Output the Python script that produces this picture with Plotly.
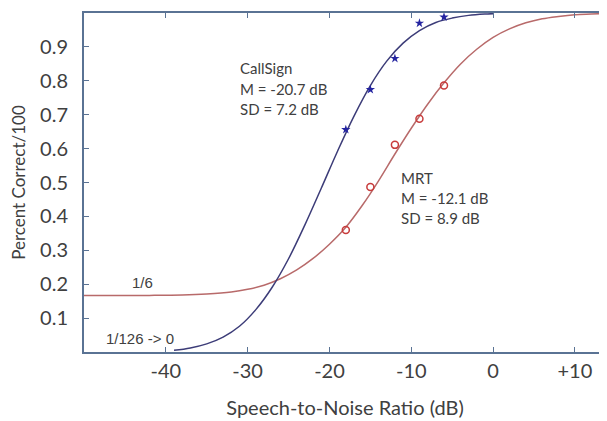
import plotly.graph_objects as go

# fitted curves
callsign_fit_x = [-39, -37, -35, -33, -31, -29, -27, -25, -23, -21, -19, -17, -15, -13, -11, -9, -7, -5, -3, -1, 0]
callsign_fit_y = [0.005, 0.012, 0.024, 0.044, 0.076, 0.125, 0.191, 0.275, 0.375, 0.483, 0.593, 0.696, 0.786, 0.858, 0.911, 0.948, 0.972, 0.985, 0.993, 0.997, 0.998]

mrt_fit_x = [-50, -46, -42, -38, -35, -32, -30, -28, -26, -24, -22, -20, -18, -16, -14, -12, -10, -8, -6, -4, -2, 0, 2, 4, 6, 8, 10, 12, 13]
mrt_fit_y = [0.167, 0.167, 0.167, 0.168, 0.171, 0.177, 0.185, 0.197, 0.216, 0.242, 0.276, 0.318, 0.368, 0.432, 0.505, 0.584, 0.660, 0.731, 0.794, 0.849, 0.893, 0.928, 0.953, 0.971, 0.983, 0.990, 0.995, 0.997, 0.998]

# measured points
snr = [-18, -15, -12, -9, -6]
callsign_pts = [0.656, 0.774, 0.866, 0.970, 0.988]
mrt_pts = [0.360, 0.487, 0.611, 0.688, 0.786]

x_ticks = [-40, -30, -20, -10, 0, 10]
x_labels = ['-40', '-30', '-20', '-10', '0', '+10']
y_ticks = [0.1, 0.2, 0.3, 0.4, 0.5, 0.6, 0.7, 0.8, 0.9]

axis_col = '#5a7394'
text_col = '#404040'
main_font = 'Lato, Open Sans, sans-serif'

fig = go.Figure()
fig.add_scatter(x=mrt_fit_x, y=mrt_fit_y, mode='lines', line_shape='spline',
                line_color='#b86a6a', line_width=1.5, showlegend=False)
fig.add_scatter(x=callsign_fit_x, y=callsign_fit_y, mode='lines', line_shape='spline',
                line_color='#3c3c78', line_width=1.5, showlegend=False)
fig.add_scatter(x=snr, y=callsign_pts, mode='markers',
                marker=dict(symbol='star', size=7, color='#2424a0'), showlegend=False)
fig.add_scatter(x=snr, y=mrt_pts, mode='markers',
                marker=dict(symbol='circle-open', size=7, color='#c83c3c', line_width=1.5),
                showlegend=False)

notes = [
    (-31.2, 0.838, 'CallSign'),
    (-31.2, 0.775, 'M = -20.7 dB'),
    (-31.2, 0.718, 'SD = 7.2 dB'),
    (-11.5, 0.513, 'MRT'),
    (-11.5, 0.455, 'M = -12.1 dB'),
    (-11.5, 0.396, 'SD = 8.9 dB'),
]
for x, y, t in notes:
    fig.add_annotation(x=x, y=y, text=t, showarrow=False, xanchor='left', yanchor='middle',
                       font=dict(family=main_font, size=15, color=text_col))
fig.add_annotation(x=-42.8, y=0.206, text='1/6', showarrow=False,
                   font=dict(family='Liberation Sans, Arial', size=15, color=text_col))
fig.add_annotation(x=-43.1, y=0.041, text='1/126 -> 0', showarrow=False,
                   font=dict(family='Liberation Sans, Arial', size=15, color=text_col))

fig.update_xaxes(range=[-50, 13.8], tickvals=x_ticks, ticktext=x_labels,
                 ticks='inside', ticklen=5, tickcolor=axis_col, tickwidth=1,
                 showline=True, linecolor=axis_col, linewidth=2, mirror='ticks',
                 showgrid=False, zeroline=False, automargin=False,
                 tickfont=dict(family=main_font, size=20, color=text_col),
                 title=dict(text='Speech-to-Noise Ratio (dB)', standoff=20,
                            font=dict(family=main_font, size=20, color=text_col)))
fig.update_yaxes(range=[0, 1.0], tickvals=y_ticks, tickformat='.1f',
                 ticks='inside', ticklen=5, tickcolor=axis_col, tickwidth=1,
                 showline=True, linecolor=axis_col, linewidth=2,
                 showgrid=False, zeroline=False, ticklabelstandoff=10, automargin=False,
                 tickfont=dict(family=main_font, size=20, color=text_col),
                 title=dict(text='Percent Correct/100', standoff=14,
                            font=dict(family=main_font, size=17, color=text_col)))
# the page puts the figure 8px in from the window's corner
fig.update_layout(width=599, height=413, margin=dict(l=76, r=1, t=5, b=69),
                  plot_bgcolor='white', paper_bgcolor='white')
fig.write_html('out.html')
